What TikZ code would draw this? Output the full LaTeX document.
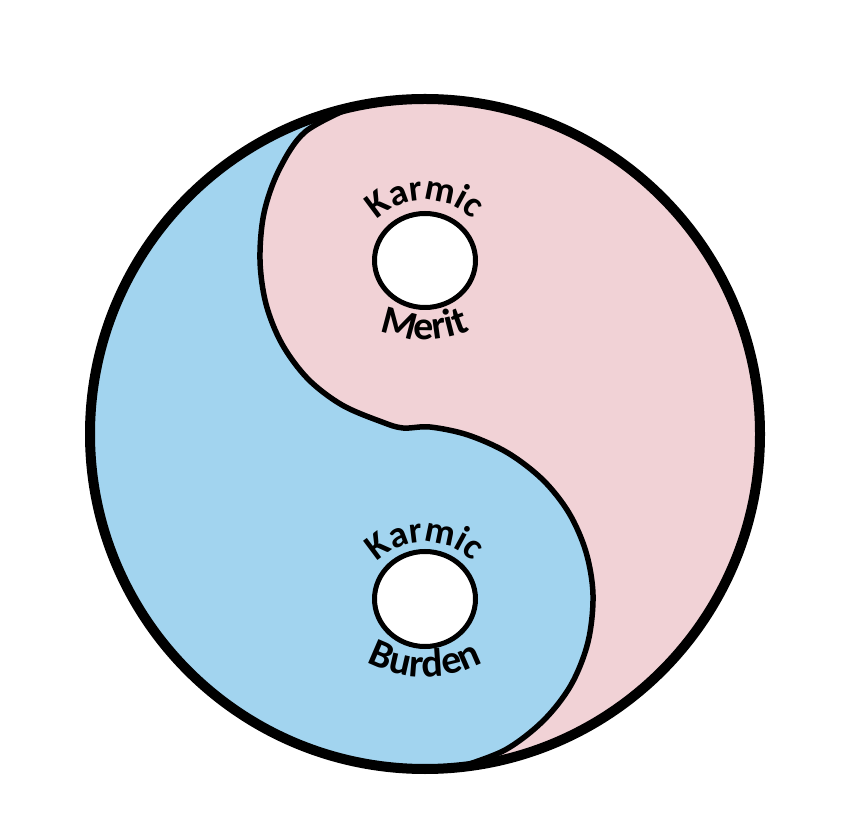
\documentclass[tikz,border=0pt]{standalone}
\usepackage{fontspec}
\setmainfont{Carlito}
\usetikzlibrary{decorations.text}
\definecolor{pinkfill}{HTML}{F1D2D6}
\definecolor{bluefill}{HTML}{A2D4EF}
\newcommand\lblfont{\bfseries\fontsize{37}{37}\selectfont}
\newcommand\lowlblfont{\bfseries\fontsize{40}{40}\selectfont}
\tikzset{
  ringline/.style={line width=10pt},
  sline/.style={line width=5.5pt, line join=round},
  eye/.style={fill=white, draw=black, line width=5pt},
  arctext/.style={decorate, decoration={text along path, text align=center, text={|\lblfont|#1}}},
  lowarctext/.style={decorate, decoration={text along path, text align=center, text={|\lowlblfont|#1}}},
}
\begin{document}
\begin{tikzpicture}[x=1pt,y=1pt]
\useasboundingbox (0,0) rectangle (848,838);
\coordinate (c) at (425,404);
\coordinate (up) at (425,577.5);
\coordinate (lo) at (425,239);
\def\scurve{(460,71) (505,88) (543,117) (571,153) (588,196) (593,243) (586,286) (569,325) (543,358) (508,385) (468,403) (430,411) (403,410) (382,416) (342,433) (308,459) (282,494) (266,534) (260,578) (264,625) (279,668) (305,706) (352,731)}
% pink whole disc
\fill[pinkfill] (c) circle[radius=335];
% blue half
\fill[bluefill] (352,731) arc[start angle=102.6, end angle=276, radius=335]
  -- plot[smooth, tension=0.55] coordinates {\scurve} -- cycle;
% S curve
\draw[sline] plot[smooth, tension=0.55] coordinates {\scurve};
% outer ring
\draw[ringline] (c) circle[radius=335];
% eyes
\draw[eye] (up) ellipse[x radius=50.5, y radius=47];
\draw[eye] (lo) ellipse[x radius=50.5, y radius=47.5];
% label arc centres
\coordinate (kt) at (425,571);
\coordinate (mt) at (425,610);
\coordinate (kb) at (425,229);
\coordinate (bb) at (425,283);
% labels
\path[arctext=Karmic] (kt) ++(150:67) arc[start angle=150, end angle=30, radius=67];
\path[lowarctext=Merit] (mt) ++(230:112) arc[start angle=230, end angle=310, radius=112];
\path[arctext=Karmic] (kb) ++(150:67) arc[start angle=150, end angle=30, radius=67];
\path[lowarctext=Burden] (bb) ++(230:122) arc[start angle=230, end angle=310, radius=122];
\end{tikzpicture}
\end{document}
